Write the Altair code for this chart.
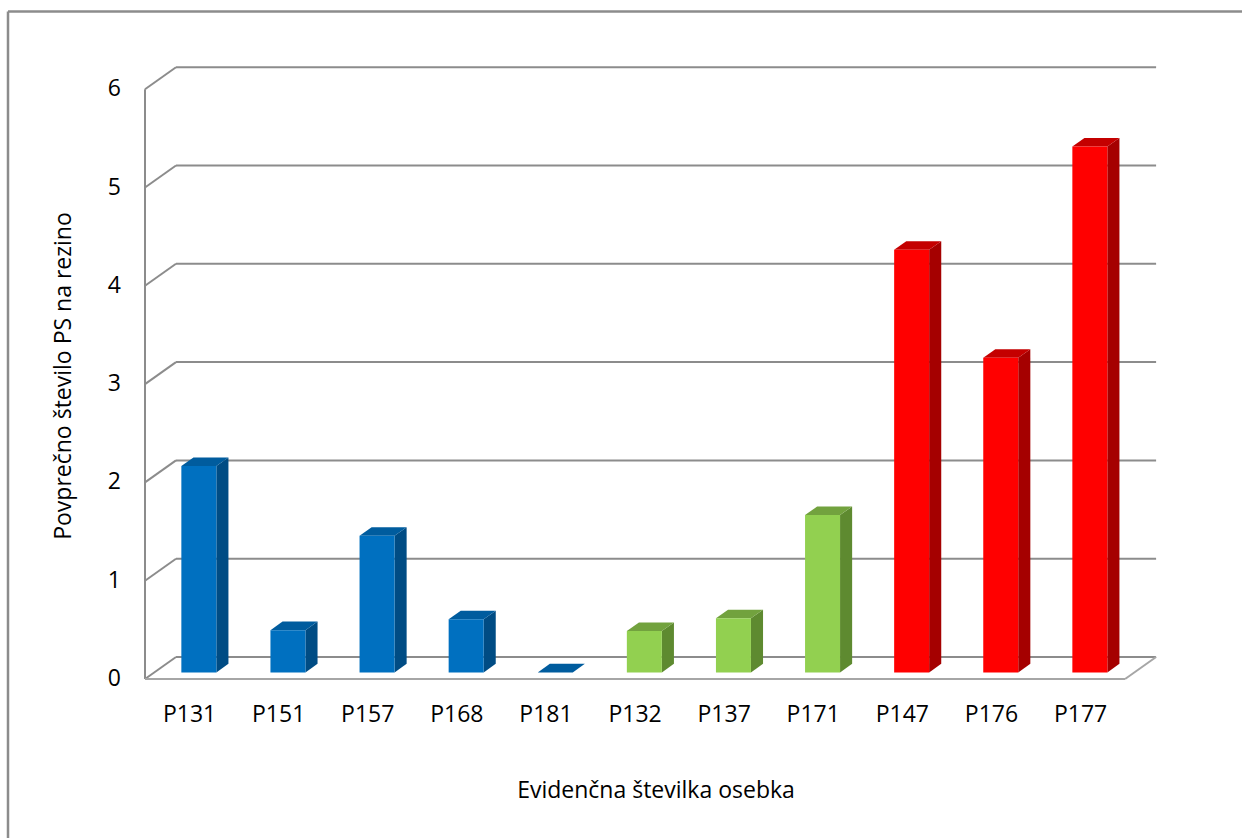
import altair as alt
import pandas as pd

# ---- data ----
categories = ["P131", "P151", "P157", "P168", "P181", "P132", "P137", "P171", "P147", "P176", "P177"]
values = [2.10, 0.43, 1.39, 0.54, 0.0, 0.42, 0.55, 1.60, 4.30, 3.20, 5.35]
groups = ["A", "A", "A", "A", "A", "B", "B", "B", "C", "C", "C"]
y_ticks = [0, 1, 2, 3, 4, 5, 6]
x_title = "Evidenčna številka osebka"
y_title = "Povprečno število PS na rezino"

# ---- layout (pixels) ----
W, H = 1242, 838
X0, Y0 = 145, 679          # front-left-bottom corner of the plot box
UX, UY = 89.1, 98.3        # px per category / px per unit value
DEPTH_X, DEPTH_Y = 31 / UX, 22 / UY   # back-wall offset in data units
F0, F1 = 0.30, 0.69        # bar front/back depth fractions
BAR_W = 35 / UX
FONT = "Open Sans"
FS = 23
GRID = "#8c8c8c"

group_dom = ["A", "B", "C"]
front_col = ["#0070C0", "#92D050", "#FF0000"]
side_col = ["#004C84", "#5E8A30", "#A50000"]
top_col = ["#005C9E", "#72A23E", "#C40000"]

xs = alt.Scale(domain=[-X0 / UX, (W - X0) / UX], nice=False, zero=False)
ys = alt.Scale(domain=[(Y0 - H) / UY, Y0 / UY], nice=False, zero=False)


def X(f):
    return alt.X(f, type="quantitative", scale=xs, axis=None)


def Y(f):
    return alt.Y(f, type="quantitative", scale=ys, axis=None)


n = len(categories)

# ---- walls / grid ----
grid_df = pd.DataFrame({
    "x": [DEPTH_X] * len(y_ticks),
    "x2": [n + DEPTH_X] * len(y_ticks),
    "y": [t + DEPTH_Y for t in y_ticks],
})
grid = alt.Chart(grid_df).mark_rule(color=GRID, strokeWidth=2).encode(
    x=X("x"), x2="x2", y=Y("y"))

diag_df = pd.DataFrame({
    "x": [0.0] * len(y_ticks),
    "x2": [DEPTH_X] * len(y_ticks),
    "y": [float(t) for t in y_ticks],
    "y2": [t + DEPTH_Y for t in y_ticks],
})
diag = alt.Chart(diag_df).mark_rule(color=GRID, strokeWidth=2).encode(
    x=X("x"), x2="x2", y=Y("y"), y2="y2")

axis_df = pd.DataFrame({"x": [0.0], "y": [0.0], "y2": [float(max(y_ticks))]})
vaxis = alt.Chart(axis_df).mark_rule(color=GRID, strokeWidth=2).encode(
    x=X("x"), y=Y("y"), y2="y2")

floor_df = pd.DataFrame({"x": [0.0, float(n)], "x2": [float(n), n + DEPTH_X],
                         "y": [0.0, 0.0], "y2": [0.0, DEPTH_Y]})
floor = alt.Chart(floor_df).mark_rule(color="#a6a6a6", strokeWidth=2).encode(
    x=X("x"), x2="x2", y=Y("y"), y2="y2")

# ---- bars ----
front_rows, side_rows, top_rows = [], [], []
for i, (c, v, g) in enumerate(zip(categories, values, groups)):
    cx = i + 0.5 + F0 * DEPTH_X
    xl, xr = cx - BAR_W / 2, cx + BAR_W / 2
    dx = (F1 - F0) * DEPTH_X
    front_rows.append({"cat": c, "gf": g, "x": xl, "x2": xr,
                       "y": F0 * DEPTH_Y, "y2": v + F0 * DEPTH_Y})
    side_rows += [
        {"cat": c, "gs": g, "x": xr, "y": F0 * DEPTH_Y, "y2": v + F0 * DEPTH_Y},
        {"cat": c, "gs": g, "x": xr + dx, "y": F1 * DEPTH_Y, "y2": v + F1 * DEPTH_Y},
    ]
    top_rows += [
        {"cat": c, "gt": g, "y": v + F0 * DEPTH_Y, "x": xl, "x2": xr},
        {"cat": c, "gt": g, "y": v + F1 * DEPTH_Y, "x": xl + dx, "x2": xr + dx},
    ]

front = alt.Chart(pd.DataFrame(front_rows)).mark_rect().encode(
    x=X("x"), x2="x2", y=Y("y"), y2="y2",
    fill=alt.Fill("gf:N", scale=alt.Scale(domain=group_dom, range=front_col), legend=None))

side = alt.Chart(pd.DataFrame(side_rows)).mark_area().encode(
    x=X("x"), y=Y("y"), y2="y2", detail="cat:N",
    fill=alt.Fill("gs:N", scale=alt.Scale(domain=group_dom, range=side_col), legend=None))

top = alt.Chart(pd.DataFrame(top_rows)).mark_area(orient="horizontal").encode(
    y=Y("y"), x=X("x"), x2="x2", detail="cat:N",
    fill=alt.Fill("gt:N", scale=alt.Scale(domain=group_dom, range=top_col), legend=None))

# ---- text ----
ytl_df = pd.DataFrame({"t": y_ticks, "x": [(121 - X0) / UX] * len(y_ticks),
                       "y": [float(t) for t in y_ticks]})
ytl = alt.Chart(ytl_df).mark_text(align="right", baseline="middle", font=FONT,
                                  fontSize=FS, color="#000000").encode(
    x=X("x"), y=Y("y"), text="t:N")

xtl_df = pd.DataFrame({"t": categories, "x": [i + 0.5 for i in range(n)],
                       "y": [(Y0 - 715) / UY] * n})
xtl = alt.Chart(xtl_df).mark_text(align="center", baseline="middle", font=FONT,
                                  fontSize=FS, color="#000000").encode(
    x=X("x"), y=Y("y"), text="t:N")

xt = alt.Chart(pd.DataFrame({"t": [x_title], "x": [(656 - X0) / UX],
                             "y": [(Y0 - 791) / UY]})).mark_text(
    align="center", baseline="middle", font=FONT, fontSize=FS, color="#000000").encode(
    x=X("x"), y=Y("y"), text="t:N")

yt = alt.Chart(pd.DataFrame({"t": [y_title], "x": [(64 - X0) / UX],
                             "y": [(Y0 - 376) / UY]})).mark_text(
    align="center", baseline="middle", angle=270, font=FONT, fontSize=FS,
    color="#000000").encode(x=X("x"), y=Y("y"), text="t:N")

# ---- outer border (top and left edges) ----
border_df = pd.DataFrame({"x": [(8 - X0) / UX, (8 - X0) / UX],
                          "x2": [(W - X0) / UX, (8 - X0) / UX],
                          "y": [(Y0 - 11.5) / UY, (Y0 - 11.5) / UY],
                          "y2": [(Y0 - 11.5) / UY, (Y0 - H) / UY]})
border = alt.Chart(border_df).mark_rule(color="#8c8c8c", strokeWidth=2.5).encode(
    x=X("x"), x2="x2", y=Y("y"), y2="y2")

chart = alt.layer(border, grid, diag, vaxis, floor, side, top, front,
                  ytl, xtl, xt, yt).resolve_scale(fill="independent").properties(
    width=W, height=H, autosize=alt.AutoSizeParams(type="none"), padding=0,
    background="white"
).configure_view(stroke=None)

chart.save("out.html", embed_options={"renderer": "svg", "actions": False})
